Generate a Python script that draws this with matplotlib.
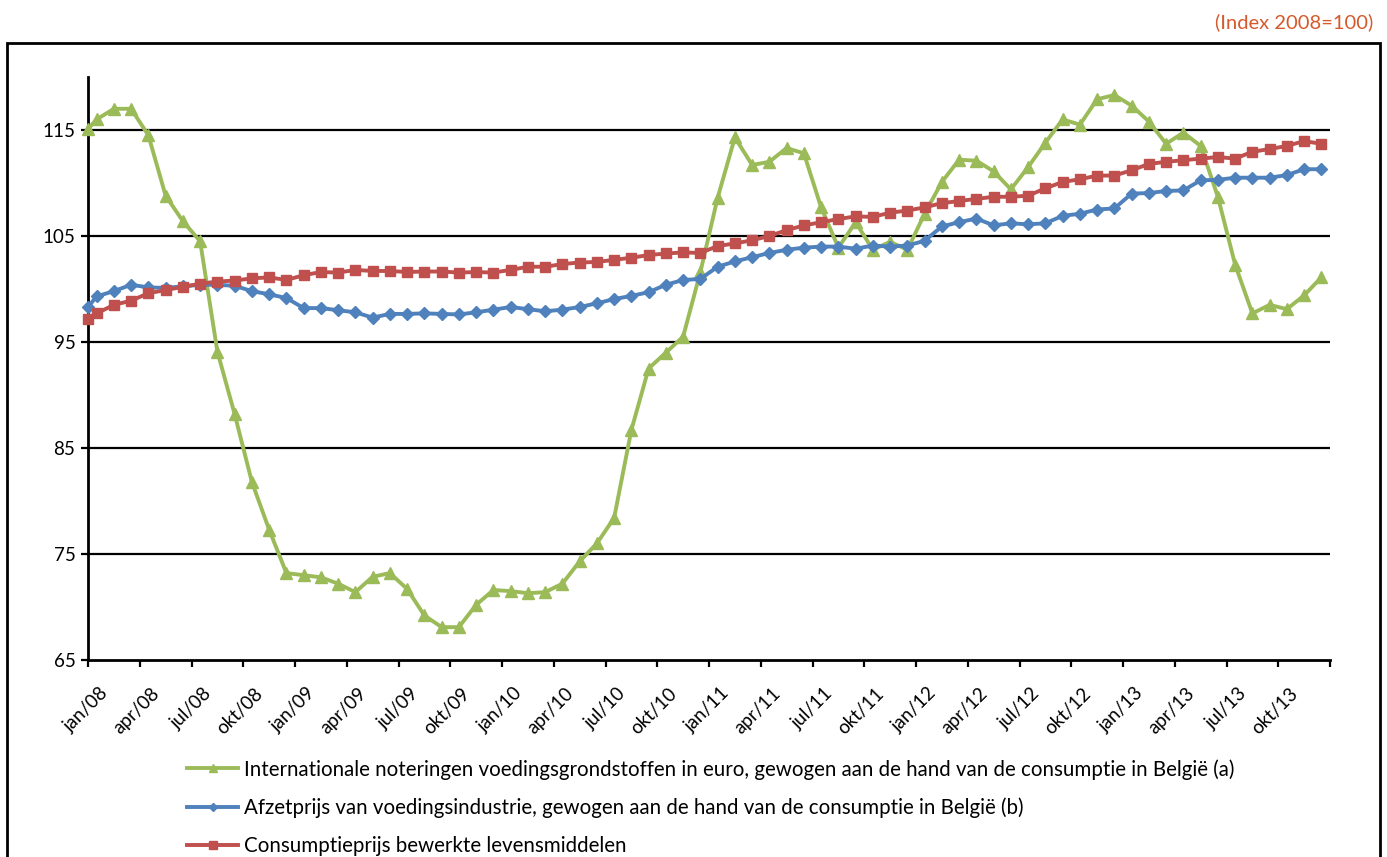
import numpy as np
import matplotlib
matplotlib.use("Agg")
import matplotlib.pyplot as plt
from matplotlib.patches import Rectangle
from matplotlib.lines import Line2D
from matplotlib.transforms import ScaledTranslation

plt.rcParams['font.family'] = ['Lato', 'DejaVu Sans']

# ---- data (Index 2008=100), monthly jan/08 .. dec/13 ----
years = ['08', '09', '10', '11', '12', '13']
month_names = ['jan', 'apr', 'jul', 'okt']
tick_labels = [f"{m}/{y}" for y in years for m in month_names]

# value at the left edge of the axis (line start)
start_values = [115.1, 98.3, 97.2]

internationale = [116.0, 117.0, 117.0, 114.5, 108.8, 106.4, 104.5, 94.1, 88.2, 81.8,
                  77.3, 73.2, 73.0, 72.8, 72.2, 71.4, 72.85, 73.2, 71.7, 69.2,
                  68.1, 68.1, 70.2, 71.6, 71.5, 71.3, 71.4, 72.2, 74.3, 76.0,
                  78.4, 86.7, 92.5, 94.0, 95.5, 101.6, 108.6, 114.3, 111.7, 112.0,
                  113.3, 112.8, 107.7, 103.9, 106.3, 103.7, 104.45, 103.7, 107.1, 110.1,
                  112.2, 112.1, 111.1, 109.4, 111.5, 113.8, 116.0, 115.5, 117.9, 118.3,
                  117.3, 115.8, 113.7, 114.75, 113.5, 108.7, 102.3, 97.7, 98.5, 98.1,
                  99.4, 101.1]

afzetprijs = [99.3, 99.8, 100.4, 100.15, 100.1, 100.25, 100.4, 100.4, 100.3, 99.8,
              99.5, 99.15, 98.2, 98.2, 98.0, 97.8, 97.3, 97.65, 97.65, 97.7,
              97.65, 97.6, 97.8, 98.05, 98.3, 98.1, 97.9, 98.05, 98.3, 98.65,
              99.05, 99.35, 99.7, 100.4, 100.85, 100.95, 102.1, 102.6, 103.0, 103.4,
              103.7, 103.9, 104.0, 104.0, 103.8, 104.1, 104.0, 104.1, 104.55, 105.9,
              106.3, 106.65, 106.0, 106.2, 106.1, 106.2, 106.9, 107.1, 107.5, 107.6,
              109.0, 109.05, 109.25, 109.3, 110.25, 110.3, 110.5, 110.5, 110.5, 110.75,
              111.3, 111.3]

consumptieprijs = [97.7, 98.5, 98.9, 99.6, 99.9, 100.2, 100.5, 100.7, 100.8, 101.0,
                   101.1, 100.85, 101.3, 101.6, 101.55, 101.8, 101.7, 101.7, 101.6, 101.65,
                   101.65, 101.55, 101.6, 101.55, 101.8, 102.1, 102.1, 102.35, 102.5, 102.55,
                   102.75, 102.95, 103.2, 103.35, 103.45, 103.4, 104.05, 104.3, 104.6, 105.0,
                   105.55, 106.0, 106.3, 106.6, 106.85, 106.8, 107.2, 107.4, 107.7, 108.1,
                   108.3, 108.5, 108.7, 108.7, 108.8, 109.5, 110.1, 110.35, 110.7, 110.7,
                   111.2, 111.8, 112.0, 112.15, 112.3, 112.45, 112.3, 112.95, 113.2, 113.5,
                   113.95, 113.7]

series_labels = [
    "Internationale noteringen voedingsgrondstoffen in euro, gewogen aan de hand van de consumptie in België (a)",
    "Afzetprijs van voedingsindustrie, gewogen aan de hand van de consumptie in België (b)",
    "Consumptieprijs bewerkte levensmiddelen",
]
series_values = [internationale, afzetprijs, consumptieprijs]
colors = ['#9BBB59', '#4F81BD', '#C0504D']
markers = ['^', 'D', 's']
msizes = [8, 6, 7]

y_ticks = [65, 75, 85, 95, 105, 115]

# ---- figure ----
W, H = 1387, 857
fig = plt.figure(figsize=(W / 100, H / 100), dpi=100)
L, R, T, B = 88, 1330, 77, 660
ax = fig.add_axes([L / W, 1 - B / H, (R - L) / W, (B - T) / H])

n = len(internationale)
xs = np.arange(n) + 0.5
for vals, start, c, m, ms in zip(series_values, start_values, colors, markers, msizes):
    x_all = np.concatenate([[0.0], xs])
    y_all = np.concatenate([[start], vals])
    ax.plot(x_all, y_all, color=c, lw=2.8, marker=m, ms=ms, mec=c, mfc=c,
            solid_joinstyle='round', clip_on=False, zorder=3)

ax.set_xlim(0, n)
ax.set_ylim(65, 120)
ax.set_yticks(y_ticks)
ax.set_yticklabels([str(v) for v in y_ticks])
for v in y_ticks[1:]:
    ax.axhline(v, color='black', lw=1.6, zorder=1)

ax.set_xticks(np.arange(0, n + 1, 3))
ax.set_xticklabels([])
ax.set_xticks(np.arange(0, n, 3) + 0.5, minor=True)
ax.set_xticklabels(tick_labels, minor=True, rotation=45, ha='right', va='center',
                   rotation_mode='anchor')
ax.tick_params(axis='x', which='minor', length=0, pad=22, labelsize=13.5)
ax.tick_params(axis='x', which='major', length=5, width=1.6, direction='out')
ax.tick_params(axis='y', length=5, width=1.6, direction='out', labelsize=13.5, pad=4)
shift = ScaledTranslation(0.085, 0, fig.dpi_scale_trans)
for lab in ax.get_xticklabels(minor=True):
    lab.set_transform(lab.get_transform() + shift)

for s in ['top', 'right']:
    ax.spines[s].set_visible(False)
for s in ['left', 'bottom']:
    ax.spines[s].set_linewidth(2)

# outer frame
fig.patches.append(Rectangle((7 / W, -0.01), (1380 - 7) / W, 1 - 43 / H + 0.01,
                             transform=fig.transFigure, fill=False, ec='black', lw=2))

fig.text(1373 / W, 1 - 22 / H, "(Index 2008=100)", color='#D55A2B', fontsize=14.5,
         ha='right', va='center')

handles = [Line2D([], [], color=c, lw=2.8, marker=m, ms=ms * 0.75, mec=c, mfc=c)
           for c, m, ms in zip(colors, markers, msizes)]
fig.legend(handles, series_labels, loc='upper left', bbox_to_anchor=(187 / W, 1 - 759 / H),
           frameon=False, fontsize=14.8, handlelength=2.5, handletextpad=0.25,
           labelspacing=0.88, borderpad=0, borderaxespad=0)

fig.savefig('out.png', dpi=100)
